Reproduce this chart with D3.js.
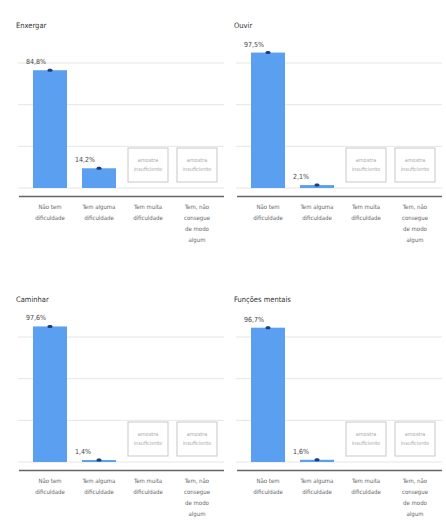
<!DOCTYPE html>
<html><head><meta charset="utf-8">
<script src="https://cdn.jsdelivr.net/npm/d3@7"></script>
<style>
body{margin:0;background:#fff;}
svg{display:block;font-family:"Liberation Sans Narrow","DejaVu Sans Condensed","Arial Narrow",sans-serif;}
</style></head>
<body><svg id="c" width="446" height="522"></svg>
<script>
const panelTitles = ["Enxergar","Ouvir","Caminhar","Funções mentais"];
const categories = [["Não tem","dificuldade"],["Tem alguma","dificuldade"],["Tem muita","dificuldade"],["Tem, não","consegue","de modo","algum"]];
// values (%); null = amostra insuficiente
const enxergar = [84.8, 14.2, null, null];
const ouvir = [97.5, 2.1, null, null];
const caminhar = [97.6, 1.4, null, null];
const funcoesMentais = [96.7, 1.6, null, null];
const gridTicks = [0, 30, 60, 90];
const insufficientLabel = ["amostra","insuficiente"];

const seriesList = [enxergar, ouvir, caminhar, funcoesMentais];
const fmt = v => d3.format(".1f")(v).replace(".", ",") + "%";

const svg = d3.select("#c");
const origins = [[0,0],[218,0],[0,274],[218,274]];

const x = d3.scaleBand().domain(d3.range(categories.length)).range([25.5, 221.5]).padding(0);
const y = d3.scaleLinear().domain([0, 90]).range([188, 63]);
const barW = 34;

seriesList.forEach((vals, i) => {
  const g = svg.append("g").attr("transform", `translate(${origins[i][0]},${origins[i][1]})`);
  g.append("text").attr("x", 16).attr("y", 28).attr("font-size", 7.5).attr("fill", "#333").text(panelTitles[i]);
  g.selectAll("line.grid").data(gridTicks).join("line")
    .attr("x1", 18).attr("x2", 224)
    .attr("y1", d => y(d)).attr("y2", d => y(d))
    .attr("stroke", "#e6e6e6").attr("stroke-width", 1);
  g.append("line").attr("x1", 19).attr("x2", 224).attr("y1", 196.5).attr("y2", 196.5)
    .attr("stroke", "#666").attr("stroke-width", 1.5);
  vals.forEach((v, j) => {
    const cx = x(j) + x.bandwidth() / 2;
    if (v == null) {
      g.append("rect").attr("x", cx - 20).attr("y", 148).attr("width", 40).attr("height", 34)
        .attr("fill", "#fff").attr("stroke", "#c8c8c8").attr("stroke-width", 1);
      insufficientLabel.forEach((t, k) => {
        g.append("text").attr("x", cx).attr("y", 162 + k * 9).attr("text-anchor", "middle")
          .attr("font-size", 5.5).attr("fill", "#aaa").text(t);
      });
    } else {
      const top = y(v);
      g.append("rect").attr("x", cx - barW / 2).attr("y", top).attr("width", barW)
        .attr("height", Math.max(1.5, y(0) - top)).attr("fill", "#5a9ff0");
      g.append("rect").attr("x", cx - 2.5).attr("y", top - 1.5).attr("width", 5).attr("height", 3)
        .attr("rx", 1.5).attr("fill", "#1f3f7a");
      g.append("text").attr("x", cx - barW / 2 - 7).attr("y", top - 6)
        .attr("font-size", 7).attr("fill", "#444").text(fmt(v));
    }
    categories[j].forEach((t, k) => {
      g.append("text").attr("x", cx).attr("y", 209 + k * 11).attr("text-anchor", "middle")
        .attr("font-size", 6).attr("fill", "#666").text(t);
    });
  });
});
</script></body></html>
